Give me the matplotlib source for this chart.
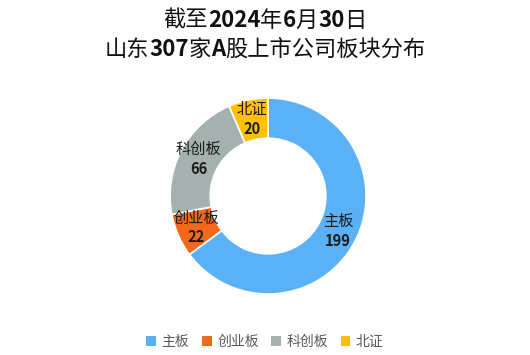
import numpy as np
import matplotlib
matplotlib.use("Agg")
import matplotlib.pyplot as plt
from matplotlib.patches import Patch

plt.rcParams['font.family'] = ['Noto Sans CJK SC', 'DejaVu Sans']

# data
boards = ["主板", "创业板", "科创板", "北证"]
counts = [199, 22, 66, 20]
colors = ["#5BB1F6", "#F2691C", "#A5B1AF", "#FFC000"]
# title pieces: (text, bold)
title_line1 = [("截至", False), ("2024", True), ("年", False), ("6", True),
               ("月", False), ("30", True), ("日", False)]
title_line2 = [("山东", False), ("307", True), ("家", False), ("A", True),
               ("股上市公司板块分布", False)]

fig = plt.figure(figsize=(5.3, 3.55), dpi=100)
ax = fig.add_axes([0.3208, 0.1718, 0.370, 0.552])

wedges, _ = ax.pie(counts, colors=colors, startangle=90, counterclock=False,
                   radius=1.0, wedgeprops=dict(width=0.41, edgecolor="white", linewidth=1.2))
ax.set_xlim(-1, 1)
ax.set_ylim(-1, 1)
ax.set_aspect("equal")

# labels at mid-ring: name above, value below
r_mid = 0.80
for w, name, n in zip(wedges, boards, counts):
    ang = np.deg2rad((w.theta1 + w.theta2) / 2)
    x, y = r_mid * np.cos(ang), r_mid * np.sin(ang)
    ax.text(x, y + 0.097, name, ha="center", va="center", fontsize=11, color="#1a1a1a")
    ax.text(x, y - 0.097, str(n), ha="center", va="center", fontsize=10.5,
            fontweight="bold", color="#1a1a1a")


def draw_runs(runs, y, size):
    renderer = fig.canvas.get_renderer()
    texts = [fig.text(0, y, s, fontsize=size, fontweight="bold" if b else "normal",
                      ha="left", va="baseline", color="#111111") for s, b in runs]
    widths = [t.get_window_extent(renderer).width for t in texts]
    x0 = (fig.bbox.width - sum(widths)) / 2
    for t, wd in zip(texts, widths):
        t.set_x(x0 / fig.bbox.width)
        x0 += wd


draw_runs(title_line1, 0.925, 16)
draw_runs(title_line2, 0.843, 16)

handles = [Patch(facecolor=c, edgecolor="none") for c in colors]
leg = fig.legend(handles, boards, loc="center", bbox_to_anchor=(0.5, 0.036), ncol=4,
                 frameon=False, fontsize=10, handlelength=0.7, handleheight=0.7,
                 handletextpad=0.4, columnspacing=0.9)
for t in leg.get_texts():
    t.set_color("#595959")

fig.savefig("out.png", dpi=100, facecolor="white")
